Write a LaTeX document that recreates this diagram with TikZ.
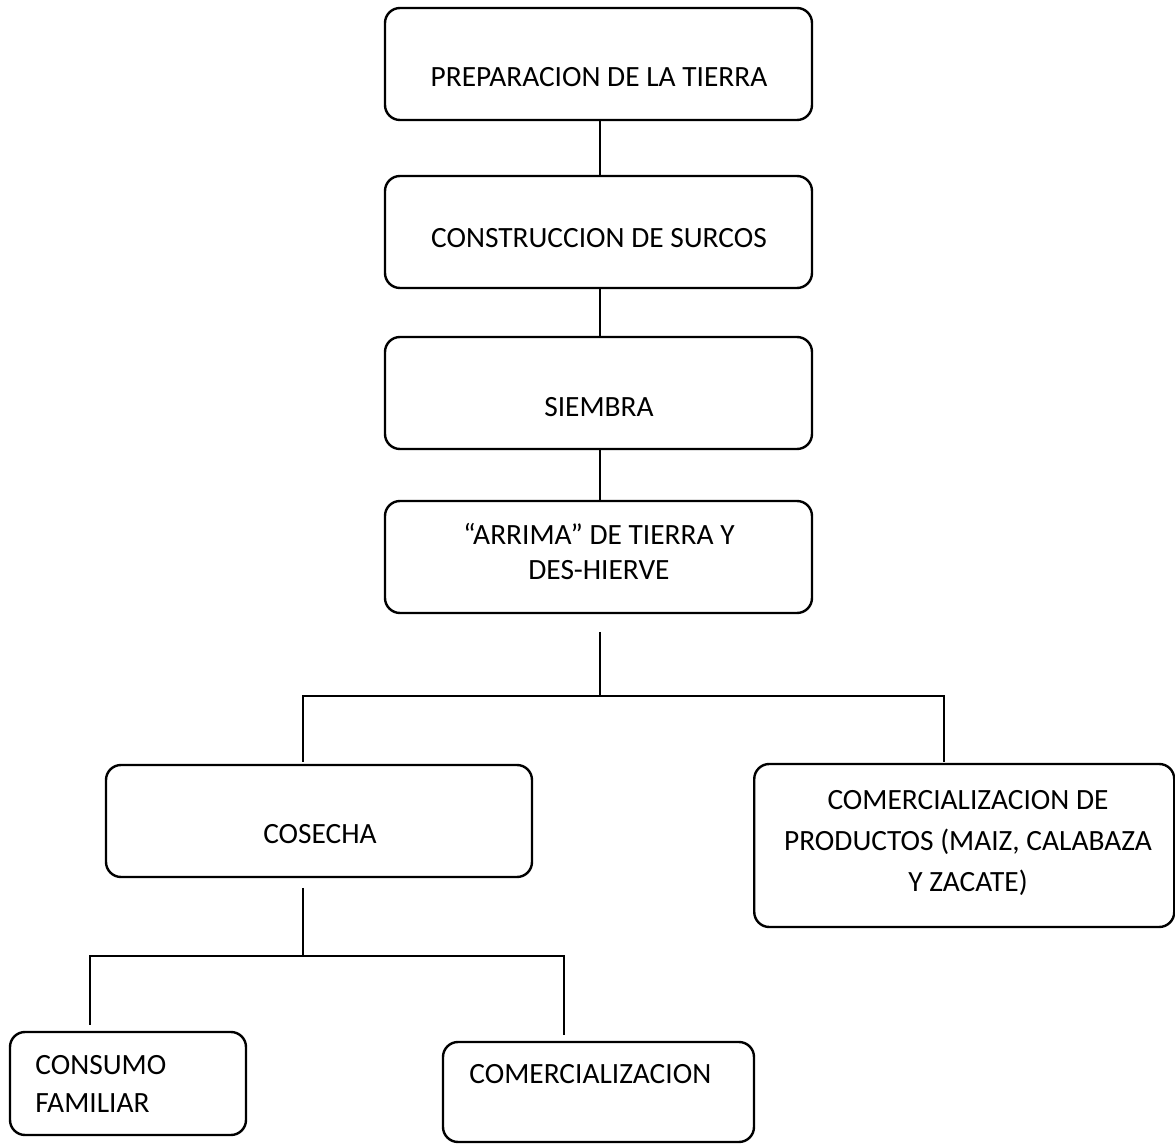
\documentclass[tikz,border=0pt]{standalone}
\usepackage{fontspec}
\setmainfont{Carlito}
\begin{document}
\begin{tikzpicture}[x=0.5pt,y=-0.5pt,
  box/.style={draw,line width=1.2pt,rounded corners=7.5pt,inner sep=0pt},
  lbl/.style={anchor=base,inner sep=0pt,font=\fontsize{14.7pt}{17pt}\selectfont},
  lbll/.style={anchor=base west,inner sep=0pt,font=\fontsize{14.7pt}{17pt}\selectfont},
  conn/.style={line width=1pt}]
\useasboundingbox (0,0) rectangle (1175,1144);
% boxes
\node[box,minimum width=213.5pt,minimum height=56pt] (b1) at (598.5,64) {};
\node[box,minimum width=213.5pt,minimum height=56pt] (b2) at (598.5,232) {};
\node[box,minimum width=213.5pt,minimum height=56pt] (b3) at (598.5,393) {};
\node[box,minimum width=213.5pt,minimum height=56pt] (b4) at (598.5,557) {};
\node[box,minimum width=213pt,minimum height=56pt] (cos) at (319,821) {};
\node[box,minimum width=210pt,minimum height=81.5pt] (prod) at (964.25,845.5) {};
\node[box,minimum width=118pt,minimum height=51.5pt] (cons) at (128,1083.5) {};
\node[box,minimum width=155.5pt,minimum height=50pt] (com) at (598.5,1092) {};
% texts
\node[lbl] (t1) at (599,87) {PREPARACION DE LA TIERRA};
\node[lbl] (t2) at (599,248) {CONSTRUCCION DE SURCOS};
\node[lbl] (t3) at (599,417) {SIEMBRA};
\node[lbl] (t4a) at (599,545) {“ARRIMA” DE TIERRA Y};
\node[lbl] (t4b) at (599,580) {DES-HIERVE};
\node[lbl] (t5) at (320,844) {COSECHA};
\node[lbl] (t6a) at (968,810) {COMERCIALIZACION DE};
\node[lbl] (t6b) at (968,851) {PRODUCTOS (MAIZ, CALABAZA};
\node[lbl] (t6c) at (968,892) {Y ZACATE)};
\node[lbll] (t7a) at (35,1075) {CONSUMO};
\node[lbll] (t7b) at (35,1113) {FAMILIAR};
\node[lbll] (t8) at (469,1084) {COMERCIALIZACION};
% connector points
\coordinate (s4) at (600,632);
\coordinate (j1) at (600,696);
\coordinate (l1) at (303,696);
\coordinate (r1) at (944,696);
\coordinate (ld) at (303,762);
\coordinate (rd) at (944,762);
\coordinate (s5) at (303,888);
\coordinate (j2) at (303,956);
\coordinate (l2) at (90,956);
\coordinate (r2) at (564,956);
\coordinate (ld2) at (90,1025);
\coordinate (rd2) at (564,1035);
% connectors
\draw[conn] (b1.south -| 600,0) -- (b2.north -| 600,0);
\draw[conn] (b2.south -| 600,0) -- (b3.north -| 600,0);
\draw[conn] (b3.south -| 600,0) -- (b4.north -| 600,0);
\draw[conn] (s4) -- (j1);
\draw[conn] (ld) -- (l1) -- (r1) -- (rd);
\draw[conn] (s5) -- (j2);
\draw[conn] (ld2) -- (l2) -- (r2) -- (rd2);
\end{tikzpicture}
\end{document}
